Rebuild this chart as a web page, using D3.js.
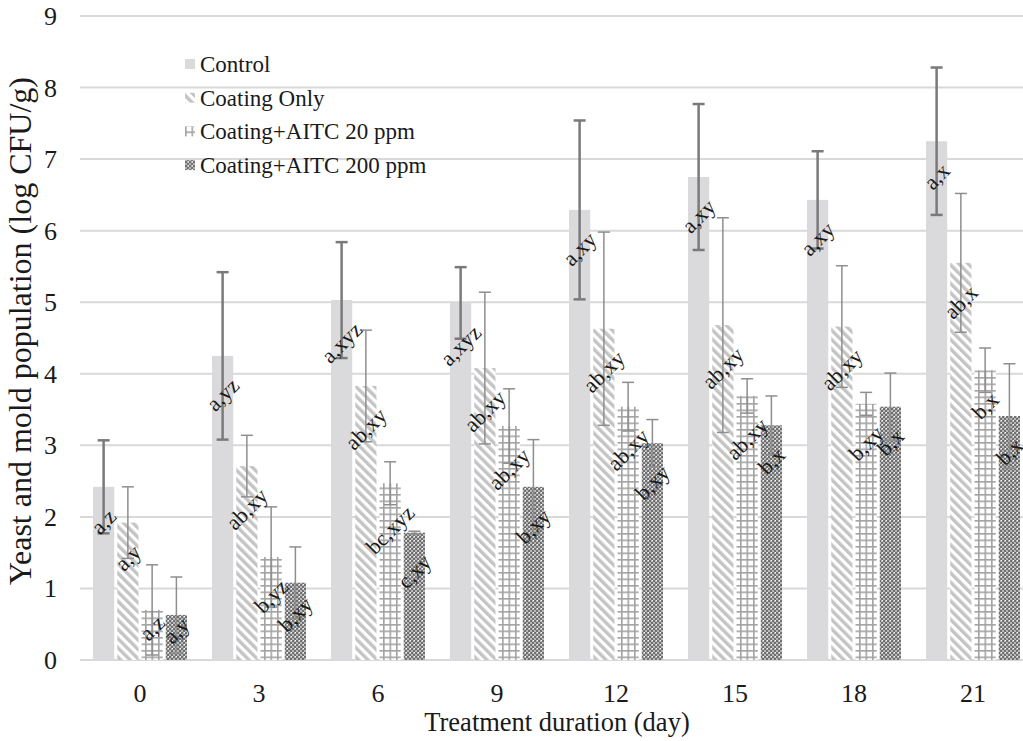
<!DOCTYPE html>
<html>
<head>
<meta charset="utf-8">
<script src="https://cdn.jsdelivr.net/npm/d3@7"></script>
<style>
  body { margin: 0; background: #fff; }
  text { font-family: "Liberation Serif", "Times New Roman", serif; fill: #1a1a1a; }
</style>
</head>
<body>
<div id="chart"></div>
<script>
var days = ["0", "3", "6", "9", "12", "15", "18", "21"];
var seriesNames = ["Control", "Coating Only", "Coating+AITC 20 ppm", "Coating+AITC 200 ppm"];

var control = [2.42, 4.25, 5.03, 4.99, 6.29, 6.75, 6.43, 7.25];
var controlErr = [0.65, 1.17, 0.81, 0.50, 1.25, 1.02, 0.68, 1.03];
var coating = [1.92, 2.71, 3.83, 4.08, 4.63, 4.68, 4.66, 5.55];
var coatingErr = [0.50, 0.43, 0.78, 1.06, 1.35, 1.50, 0.85, 0.97];
var aitc20 = [0.70, 1.44, 2.47, 3.27, 3.54, 3.69, 3.58, 4.05];
var aitc20Err = [0.63, 0.70, 0.30, 0.52, 0.34, 0.24, 0.16, 0.31];
var aitc200 = [0.63, 1.08, 1.78, 2.42, 3.03, 3.28, 3.54, 3.41];
var aitc200Err = [0.53, 0.50, 0.02, 0.66, 0.33, 0.41, 0.47, 0.73];

var controlLab = ["a,z", "a,yz", "a,xyz", "a,xyz", "a,xy", "a,xy", "a,xy", "a,x"];
var coatingLab = ["a,y", "ab,xy", "ab,xy", "ab,xy", "ab,xy", "ab,xy", "ab,xy", "ab,x"];
var aitc20Lab = ["a,z", "b,yz", "bc,xyz", "ab,xy", "ab,xy", "ab,xy", "b,xy", "b,x"];
var aitc200Lab = ["a,y", "b,xy", "c,xy", "b,xy", "b,xy", "b,x", "b,x", "b,x"];

var yTicks = [0, 1, 2, 3, 4, 5, 6, 7, 8, 9];

var width = 1023, height = 741;
var values = [control, coating, aitc20, aitc200];
var errs = [controlErr, coatingErr, aitc20Err, aitc200Err];
var labs = [controlLab, coatingLab, aitc20Lab, aitc200Lab];
var fills = ["#dadadc", "url(#hatch)", "url(#grid)", "url(#dots)"];
var errColor = ["#7a7a7a", "#8e8e8e", "#8e8e8e", "#8e8e8e"];
var errWidth = [2.5, 1.5, 1.5, 1.5];

var svg = d3.select("#chart").append("svg").attr("width", width).attr("height", height);
var defs = svg.append("defs");

// diagonal hatch
var ph = defs.append("pattern").attr("id", "hatch").attr("patternUnits", "userSpaceOnUse")
    .attr("width", 6.6).attr("height", 6.6).attr("patternTransform", "rotate(-45)");
ph.append("rect").attr("width", 6.6).attr("height", 6.6).attr("fill", "#fff");
ph.append("rect").attr("width", 3.4).attr("height", 6.6).attr("fill", "#c4c4c4");

// grid
var pg = defs.append("pattern").attr("id", "grid").attr("patternUnits", "userSpaceOnUse")
    .attr("width", 6.5).attr("height", 6.5);
pg.append("rect").attr("width", 6.5).attr("height", 6.5).attr("fill", "#fff");
pg.append("rect").attr("width", 1.6).attr("height", 6.5).attr("fill", "#a3a3a3");
pg.append("rect").attr("width", 6.5).attr("height", 1.6).attr("fill", "#a3a3a3");

// dotted
var pd = defs.append("pattern").attr("id", "dots").attr("patternUnits", "userSpaceOnUse")
    .attr("width", 4).attr("height", 4);
pd.append("rect").attr("width", 4).attr("height", 4).attr("fill", "#b8b8b8");
pd.append("rect").attr("x", 0).attr("y", 0).attr("width", 2).attr("height", 2).attr("fill", "#707070");
pd.append("rect").attr("x", 2).attr("y", 2).attr("width", 2).attr("height", 2).attr("fill", "#707070");
pd.append("rect").attr("x", 3).attr("y", 0).attr("width", 1).attr("height", 1).attr("fill", "#fff");

var x0 = d3.scaleBand().domain(days).range([80.5, 1032.5]).paddingInner(0.21).paddingOuter(0.105);
var x1 = d3.scaleBand().domain(d3.range(4)).range([0, x0.bandwidth()]).paddingInner(0.125);
var y = d3.scaleLinear().domain([0, 9]).range([660, 16]);

// gridlines
svg.append("g").selectAll("line").data(yTicks).enter().append("line")
    .attr("x1", 80).attr("x2", width)
    .attr("y1", d => y(d)).attr("y2", d => y(d))
    .attr("stroke", "#d9d9d9").attr("stroke-width", 2);

// y tick labels
svg.append("g").selectAll("text").data(yTicks).enter().append("text")
    .attr("x", 57).attr("y", d => y(d) + 9)
    .attr("text-anchor", "end").style("font-size", "26px")
    .text(d => d);

// x tick labels
svg.append("g").selectAll("text").data(days).enter().append("text")
    .attr("x", d => x0(d) + x0.bandwidth() / 2).attr("y", 702)
    .attr("text-anchor", "middle").style("font-size", "26px")
    .text(d => d);

// axis titles
svg.append("text").attr("x", 557).attr("y", 731).attr("text-anchor", "middle")
    .style("font-size", "26.5px").text("Treatment duration (day)");
svg.append("text").attr("transform", "translate(31,331) rotate(-90)").attr("text-anchor", "middle")
    .style("font-size", "32px").text("Yeast and mold population (log CFU/g)");

var groups = svg.append("g").selectAll("g").data(days).enter().append("g")
    .attr("transform", d => "translate(" + x0(d) + ",0)");

// bars
values.forEach(function(vals, s) {
    groups.append("rect")
        .attr("x", x1(s))
        .attr("width", x1.bandwidth())
        .attr("y", (d, i) => y(vals[i]))
        .attr("height", (d, i) => y(0) - y(vals[i]))
        .attr("fill", fills[s]);
});

// error bars
values.forEach(function(vals, s) {
    var cx = x1(s) + x1.bandwidth() / 2;
    var eb = groups.append("g").attr("stroke", errColor[s]).attr("stroke-width", errWidth[s]);
    eb.append("line").attr("x1", cx).attr("x2", cx)
        .attr("y1", (d, i) => y(vals[i] + errs[s][i]))
        .attr("y2", (d, i) => y(vals[i] - errs[s][i]));
    eb.append("line").attr("x1", cx - 6).attr("x2", cx + 6)
        .attr("y1", (d, i) => y(vals[i] + errs[s][i]))
        .attr("y2", (d, i) => y(vals[i] + errs[s][i]));
    eb.append("line").attr("x1", cx - 6).attr("x2", cx + 6)
        .attr("y1", (d, i) => y(vals[i] - errs[s][i]))
        .attr("y2", (d, i) => y(vals[i] - errs[s][i]));
});

// rotated letter labels
values.forEach(function(vals, s) {
    var cx = x1(s) + x1.bandwidth() / 2;
    groups.append("text")
        .style("font-size", "22px")
        .attr("text-anchor", "middle")
        .attr("dominant-baseline", "central")
        .text((d, i) => labs[s][i])
        .attr("transform", function(d, i) {
            var w = this.getComputedTextLength();
            var top = y(vals[i]);
            var cy = Math.min(top + 0.354 * (w + 22) + 18, (top + y(0)) / 2 - 7);
            return "translate(" + cx + "," + cy + ") rotate(-45)";
        });
});

// legend
var legend = svg.append("g").attr("transform", "translate(185,64)");
seriesNames.forEach(function(name, s) {
    var row = legend.append("g").attr("transform", "translate(0," + (s * 33.7) + ")");
    row.append("rect").attr("x", 0).attr("y", -5).attr("width", 10).attr("height", 10).attr("fill", fills[s]);
    row.append("text").attr("x", 15).attr("y", 8).style("font-size", "23px").text(name);
});
</script>
</body>
</html>
